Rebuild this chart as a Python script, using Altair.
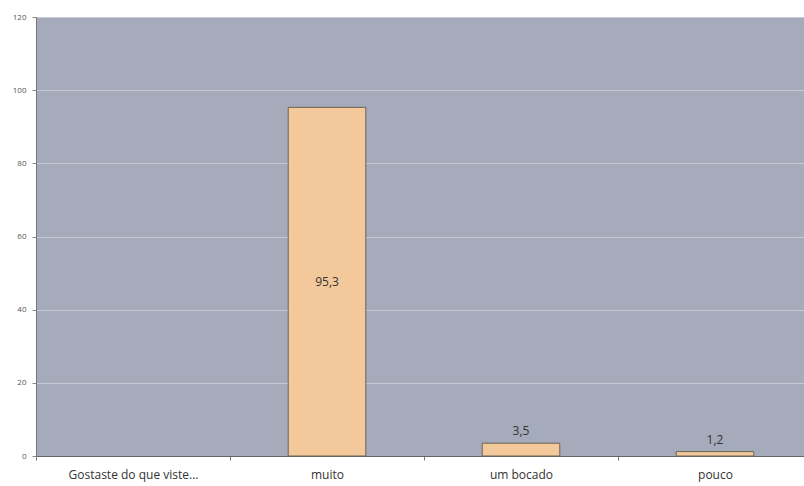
import altair as alt
import pandas as pd

# Survey answers: "Did you like what you saw..." (percent)
categories = ["Gostaste do que viste...", "muito", "um bocado", "pouco"]
percent = [None, 95.3, 3.5, 1.2]
label_inside = [False, True, False, False]

df = pd.DataFrame({"cat": categories, "pct": percent, "inside": label_inside})

# the last band runs slightly past the right edge of the canvas
x = alt.X("cat:N", sort=categories, title=None,
          scale=alt.Scale(domain=categories, paddingInner=0, paddingOuter=0,
                          range=[0, 776]),
          axis=alt.Axis(labelAngle=0, labelFont="Open Sans", labelFontSize=12,
                        labelColor="#333333", labelPadding=9, tickBand="extent",
                        tickSize=4, tickColor="#777777", domainColor="#666666",
                        grid=False))
y = alt.Y("pct:Q", title=None,
          scale=alt.Scale(domain=[0, 120], nice=False),
          axis=alt.Axis(values=[0, 20, 40, 60, 80, 100, 120], labelFontSize=8,
                        labelFont="Open Sans", labelColor="#555555", tickSize=4,
                        tickColor="#888888", domainColor="#777777",
                        gridColor="#c5cad6", gridWidth=1, labelPadding=6))

base = alt.Chart(df).transform_filter("isValid(datum.pct)").transform_calculate(
    txt="replace(format(datum.pct, '.1f'), '.', ',')",
    mid="datum.pct / 2",
)

bars = base.mark_bar(width=alt.RelativeBandSize(0.4), color="#f3c99b",
                     stroke="#6e6253", strokeWidth=1).encode(x=x, y=y)

inside = base.transform_filter("datum.inside").mark_text(
    font="Open Sans", fontSize=12, color="#333333").encode(
    x=alt.X("cat:N", sort=categories), y=alt.Y("mid:Q"), text="txt:N")

above = base.transform_filter("!datum.inside").mark_text(
    font="Open Sans", fontSize=12, color="#333333", dy=-12).encode(
    x=alt.X("cat:N", sort=categories), y=alt.Y("pct:Q"), text="txt:N")

chart = alt.layer(bars, inside, above).properties(
    width=768, height=439,
    autosize=alt.AutoSizeParams(type="none"),
    padding={"left": 36, "top": 17, "right": 0, "bottom": 30},
    background="white",
).configure_view(fill="#a5abbb", stroke=None)

chart.save("out.html", embed_options={"renderer": "svg", "actions": False})
